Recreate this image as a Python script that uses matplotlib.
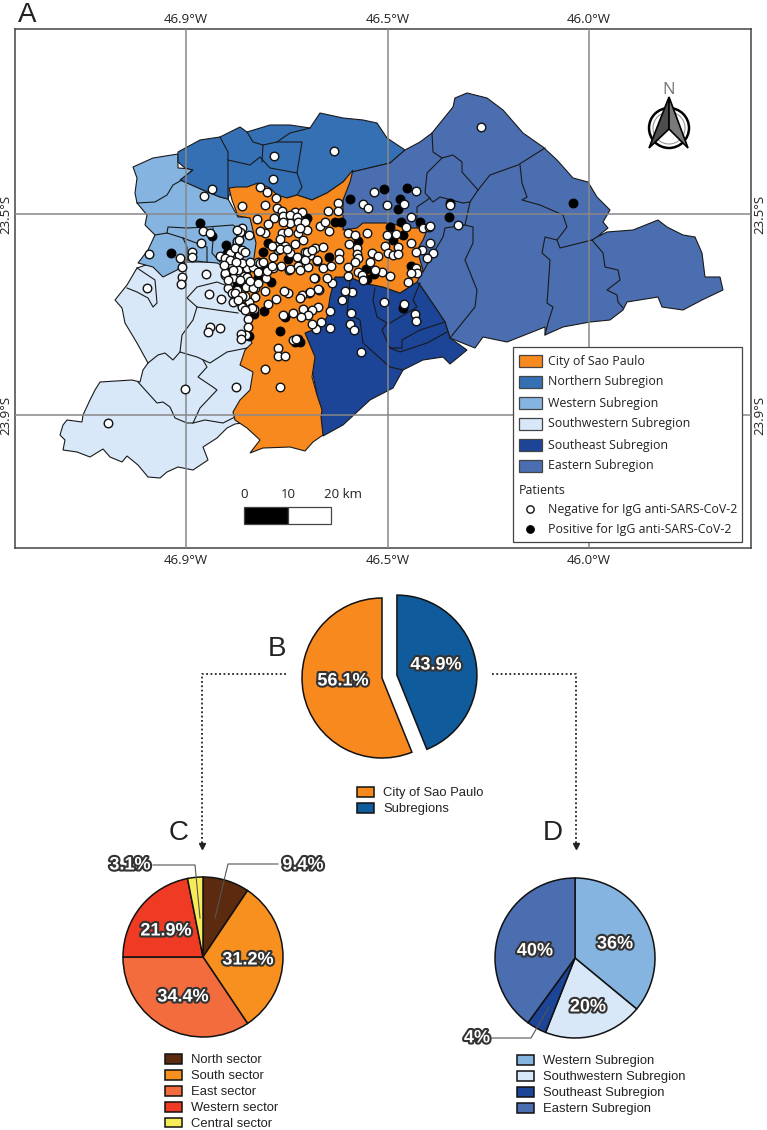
# recreate the Sao Paulo seroprevalence map + pie panels
import matplotlib
matplotlib.use("Agg")
import matplotlib.pyplot as plt
import matplotlib.patheffects as pe
from matplotlib.patches import Polygon, Rectangle, Circle

W, H = 767, 1130
MAP_FONT = "Open Sans"
PIE_FONT = "Liberation Sans"

#############################
#### map data (digitised map units, the grid ticks label them in degrees)
#############################
lon_ticks = [186, 388, 589]
lon_labels = ["46.9°W", "46.5°W", "46.0°W"]
lat_ticks = [214, 415]
lat_labels = ["23.5°S", "23.9°S"]

southwest_outline = [(137,268),(127,285),(115,300),(122,308),(125,323),(137,343),(148,363),(143,370),(140,382),
    (132,380),(100,382),(95,390),(90,400),(83,415),(82,422),(67,420),(63,425),(60,435),(65,440),(63,450),(77,452),
    (90,457),(103,449),(110,457),(122,462),(127,456),(138,465),(148,477),(160,478),(167,472),(178,467),(193,470),
    (208,460),(203,447),(217,438),(227,428),(235,424),(262,420),(262,262),(155,262)]
western_outline = [(133,167),(153,158),(178,154),(178,168),(193,169),(182,180),(203,190),(220,197),(228,199),
    (238,217),(250,217),(258,243),(254,262),(240,272),(227,268),(217,263),(205,262),(187,260),(177,270),(163,277),
    (153,267),(138,263),(148,250),(155,235),(145,225),(147,215),(137,203),(135,193),(137,178)]
northern_outline = [(178,152),(200,140),(220,137),(240,127),(247,132),(270,125),(290,125),(310,128),(320,113),
    (343,118),(363,120),(377,123),(387,138),(405,150),(390,163),(373,167),(352,172),(343,182),(327,193),(312,200),
    (297,195),(287,198),(270,195),(229,195),(228,199),(220,197),(203,190),(180,180),(193,170),(185,168),(178,162)]
eastern_outline = [(352,172),(373,167),(390,163),(405,150),(420,142),(432,133),(453,107),(455,98),(467,93),(487,98),
    (503,110),(523,133),(543,147),(557,160),(573,178),(588,182),(597,197),(610,210),(603,222),(608,228),(597,237),
    (607,232),(633,230),(658,220),(667,227),(683,235),(695,237),(702,253),(705,277),(720,277),(723,290),(702,300),
    (683,310),(662,307),(658,297),(627,302),(623,310),(610,320),(590,322),(563,327),(545,335),(545,327),(507,342),
    (483,337),(475,348),(450,338),(445,322),(435,307),(420,285),(417,282),(380,260),(345,240),(340,215),(345,190)]
southeast_outline = [(335,277),(350,277),(363,283),(383,287),(400,293),(417,282),(420,285),(435,307),(445,322),
    (450,338),(467,350),(450,364),(443,357),(423,360),(403,370),(393,388),(370,400),(357,412),(343,425),(323,436),
    (318,400),(305,333),(320,327)]
city_outline = [(229,188),(237,187),(247,187),(258,183),(270,188),(277,195),(287,198),(297,195),(312,200),(327,193),
    (343,182),(353,170),(350,182),(343,200),(343,215),(343,230),(357,228),(363,223),(390,223),(407,228),(428,228),
    (423,240),(417,250),(423,270),(417,282),(400,293),(383,287),(363,283),(350,277),(335,277),(330,297),(327,317),
    (320,327),(305,333),(315,357),(312,377),(317,395),(322,410),(321,417),(323,435),(313,442),(305,451),(290,447),
    (263,448),(250,453),(260,440),(247,428),(235,420),(233,412),(240,400),(250,390),(253,372),(240,365),(245,350),
    (252,343),(246,330),(250,320),(240,305),(240,290),(250,275),(254,258),(256,243),(250,218),(238,216),(232,200)]

# municipality borders
municipal_lines = [
    # northern
    [(220,137),(228,152),(228,199)],
    [(228,160),(250,165),(260,157),(270,168),(297,173),(302,187),(297,195)],
    [(247,132),(253,142),(263,145),(277,142),(290,133),(310,128)],
    [(263,145),(262,162)],
    [(277,142),(302,142),(297,173)],
    # western
    [(137,203),(155,202),(167,195),(173,185),(182,180)],
    [(155,235),(167,233),(168,227),(187,228),(207,227),(233,225),(237,228)],
    [(167,233),(183,238),(187,247),(187,260)],
    [(183,238),(207,247),(207,262)],
    [(213,228),(213,240),(212,253),(220,262)],
    # southwest
    [(137,268),(155,280),(157,303),(153,307),(148,298),(137,292),(127,288)],
    [(187,298),(197,287),(217,282),(230,287),(240,290)],
    [(187,298),(197,307),(217,310),(238,313)],
    [(197,307),(193,320),(182,335),(180,352),(197,357),(210,363),(227,352),(252,347)],
    [(148,363),(158,355),(165,353),(173,360),(180,352)],
    [(203,360),(207,367),(198,377),(213,387),(217,390),(200,408),(193,423)],
    [(138,382),(157,403),(163,402),(170,407),(175,418),(187,423),(193,423),(205,420),(223,423),(235,417)],
    # eastern
    [(432,133),(433,152),(442,158),(453,155),(462,162),(462,172),(478,190)],
    [(442,158),(427,173),(425,193),(433,202),(440,197),(463,203),(470,202),(478,190)],
    [(478,190),(490,175),(518,165),(545,148)],
    [(520,165),(522,183),(527,197),(522,200),(540,205),(563,215),(567,227),(557,240),(560,248),(592,240),(597,237)],
    [(592,240),(603,253),(605,267),(618,270),(620,280),(607,290),(617,295),(618,302),(623,308)],
    [(557,240),(545,237),(542,253),(550,260),(548,290),(547,303),(553,307),(548,323),(545,335)],
    [(470,202),(465,225),(473,227),(473,243),(465,260),(477,290),(475,307),(450,338)],
    [(465,225),(445,228),(443,237),(437,247),(423,272)],
    [(417,228),(417,207),(430,198)],
    # southeast
    [(375,288),(373,300),(377,317),(387,323),(382,330),(390,348),(402,348),(402,340),(420,330),(445,322)],
    [(390,348),(400,352),(427,343),(447,332)],
    [(420,283),(413,300),(417,307),(390,323)],
    [(350,282),(347,313),(360,320),(363,343),(390,367),(403,370)],
]

negative_points = [(334,151),(274,156),(273,179),(212,189),(204,196),(260,187),(267,192),(276,198),(242,206),(265,205),
    (277,208),(282,211),(295,212),(302,212),(283,216),(290,215),(297,217),(338,203),(328,211),(338,211),(374,192),
    (416,191),(363,204),(368,208),(387,205),(404,204),(257,219),(274,218),(268,224),(290,223),(298,222),(305,222),
    (307,230),(320,226),(325,222),(329,231),(265,233),(260,231),(282,233),(288,232),(298,233),(280,239),(303,240),
    (295,244),(348,233),(367,233),(355,235),(387,235),(396,234),(411,217),(406,227),(423,228),(429,227),(430,243),
    (411,243),(422,250),(416,252),(433,253),(427,258),(349,244),(385,246),(398,247),(357,248),(357,254),(372,253),
    (378,256),(388,253),(393,255),(398,254),(339,253),(339,259),(358,258),(348,267),(348,276),(358,272),(362,275),
    (382,272),(390,276),(363,280),(408,282),(416,268),(417,273),(411,273),(352,292),(345,291),(342,300),(384,302),
    (404,304),(415,314),(416,321),(351,313),(350,324),(354,330),(330,328),(361,352),(330,311),(321,322),(316,329),
    (312,324),(318,307),(312,310),(303,309),(308,315),(301,317),(293,313),(283,315),(319,290),(309,293),(302,295),
    (300,298),(288,293),(284,291),(276,299),(268,304),(332,283),(327,278),(315,278),(323,268),(331,266),(317,261),
    (308,267),(298,266),(289,270),(281,266),(273,268),(266,278),(265,291),(255,297),(249,302),(242,306),(234,301),
    (228,288),(245,296),(255,288),(246,287),(237,290),(232,293),(244,276),(225,275),(220,256),(236,247),(239,255),
    (231,263),(241,264),(247,268),(253,267),(258,272),(267,271),(258,262),(273,257),(278,250),(285,246),(275,246),
    (290,253),(297,257),(305,252),(307,255),(315,248),(310,255),(323,247),(242,228),(240,232),(249,235),(237,241),
    (230,253),(203,231),(210,233),(201,243),(192,252),(192,257),(180,258),(182,267),(182,277),(181,284),(149,254),
    (147,288),(206,274),(209,294),(221,299),(242,307),(248,319),(254,309),(251,308),(248,327),(246,335),(241,334),
    (241,339),(210,327),(208,332),(220,328),(278,348),(278,356),(285,356),(265,369),(280,387),(236,387),(185,389),
    (293,340),(296,339),(108,423),(481,127),(450,205),(458,225),(430,226),(235,248),(242,250),(225,258),(242,263),
    (232,265),(230,260),(260,263),(272,266),(238,270),(225,273),(247,277),(233,278),(253,288),(235,293),(242,296),
    (233,302),(252,308),(280,249),(287,249),(272,246),(307,252),(317,260),(290,269),(314,278),(318,289),(310,292),
    (237,230),(239,240),(245,252),(250,262),(236,262),(224,265),(240,280),(250,281),(238,300),(245,310),(283,222),
    (300,228),(312,250),(305,260),(300,270),(370,262),(375,270),(355,262),(233,270),(228,280),(258,283),(263,262)]

positive_points = [(171,253),(200,223),(212,236),(226,245),(227,253),(237,243),(240,233),(231,270),(237,285),(258,278),
    (264,267),(271,282),(263,252),(268,243),(288,259),(307,218),(335,222),(341,222),(329,257),(358,241),(350,199),
    (384,189),(407,188),(400,199),(398,209),(390,227),(401,222),(420,222),(403,235),(393,240),(411,266),(366,269),
    (374,274),(367,279),(403,308),(450,203),(449,217),(254,314),(264,311),(285,317),(280,331),(249,336),(298,339),
    (300,342),(295,342),(573,203)]

region_names = ["City of Sao Paulo", "Northern Subregion", "Western Subregion",
                "Southwestern Subregion", "Southeast Subregion", "Eastern Subregion"]
region_colors = ["#F7891F", "#3570B5", "#85B4E0", "#D8E8F8", "#1C4497", "#4A6EAF"]
patient_labels = ["Negative for IgG anti-SARS-CoV-2", "Positive for IgG anti-SARS-CoV-2"]
scale_labels = ["0", "10", "20 km"]

#############################
#### pie data
#############################
b_labels = ["Subregions", "City of Sao Paulo"]
b_values = [43.9, 56.1]
b_colors = ["#0F5B9C", "#F7891F"]

c_labels = ["North sector", "South sector", "East sector", "Western sector", "Central sector"]
c_values = [9.4, 31.2, 34.4, 21.9, 3.1]
c_colors = ["#5C2A0E", "#F7901E", "#F36C3D", "#EF3B24", "#F7EC58"]

d_labels = ["Western Subregion", "Southwestern Subregion", "Southeast Subregion", "Eastern Subregion"]
d_values = [36, 20, 4, 40]
d_colors = ["#85B4E0", "#D8E8F8", "#1C4497", "#4A6EAF"]

#############################
#### helpers
#############################
def px_axes(x0, y0, x1, y1):
    # axes from a pixel box, y counted from the top of the figure
    return fig.add_axes([x0/W, 1-y1/H, (x1-x0)/W, (y1-y0)/H])

def pie_axes(cx, cy, r):
    ax = px_axes(cx-1.3*r, cy-1.3*r, cx+1.3*r, cy+1.3*r)
    ax.set_xlim(-1.3, 1.3)
    ax.set_ylim(-1.3, 1.3)
    return ax

def draw_pie(ax, values, colors, explode=None):
    wedges, _ = ax.pie(values, colors=colors, startangle=90, counterclock=False, explode=explode,
                       radius=1, wedgeprops=dict(edgecolor="#111111", linewidth=1.1))
    ax.set_xlim(-1.3, 1.3)
    ax.set_ylim(-1.3, 1.3)
    return wedges

def pie_text(x, y, s):
    over.text(x, y, s, ha="center", va="center", color="white", fontsize=13, fontweight="bold", family=PIE_FONT,
              path_effects=[pe.withStroke(linewidth=3, foreground="#333333")], zorder=6)

def pie_legend(handles, labels, x, y):
    fig.legend(handles, labels, loc="upper left", bbox_to_anchor=(x/W, 1-y/H), bbox_transform=fig.transFigure,
               frameon=False, prop=dict(family=PIE_FONT, size=9.4), labelcolor="#222222", borderpad=0, borderaxespad=0,
               handlelength=1.3, handleheight=0.77, handletextpad=0.72, labelspacing=0.27)

#############################
#### figure
#############################
fig = plt.figure(figsize=(W/100, H/100), dpi=100)

# panel A
ax = px_axes(15, 29, 751, 548)
ax.set_xlim(15, 751)
ax.set_ylim(548, 29)
for spine in ax.spines.values():
    spine.set_color("#444444")
    spine.set_linewidth(1.1)
ax.set_xticks(lon_ticks)
ax.set_xticklabels(lon_labels)
ax.set_yticks(lat_ticks)
ax.set_yticklabels(lat_labels)
ax.tick_params(axis="both", length=0, labelsize=9.5, labelcolor="#222222",
               top=False, bottom=False, left=False, right=False,
               labeltop=True, labelbottom=True, labelleft=True, labelright=True)
ax.tick_params(axis="x", pad=4.4)
ax.tick_params(axis="y", labelrotation=90, pad=2)
for tick in ax.yaxis.get_major_ticks():
    for lab in (tick.label1, tick.label2):
        lab.set_va("center")
        lab.set_family(MAP_FONT)
for tick in ax.xaxis.get_major_ticks():
    for lab in (tick.label1, tick.label2):
        lab.set_family(MAP_FONT)
    tick.label2.set_va("baseline")
ax.set_axisbelow(False)
ax.grid(True, color="#888888", linewidth=1.1)

outlines = [(southwest_outline, region_colors[3]), (western_outline, region_colors[2]),
            (northern_outline, region_colors[1]), (eastern_outline, region_colors[5]),
            (southeast_outline, region_colors[4])]
for pts, col in outlines:
    ax.add_patch(Polygon(pts, closed=True, facecolor=col, edgecolor="#1a1a1a", linewidth=0.8, zorder=2))
for line in municipal_lines:
    ax.plot([p[0] for p in line], [p[1] for p in line], color="#1a1a1a", linewidth=0.8, zorder=2.2)
# city goes over the borders
ax.add_patch(Polygon(city_outline, closed=True, facecolor=region_colors[0], edgecolor="#1a1a1a", linewidth=0.8, zorder=2.3))

ax.scatter([p[0] for p in positive_points], [p[1] for p in positive_points],
           s=40, c="black", edgecolors="black", linewidths=0.8, zorder=4)
ax.scatter([p[0] for p in negative_points], [p[1] for p in negative_points],
           s=38, c="white", edgecolors="#111111", linewidths=1.0, zorder=5)

# north arrow
ax.add_patch(Circle((669, 128), 20, facecolor="white", edgecolor="black", linewidth=1.8, zorder=3))
ax.add_patch(Circle((669, 128), 16, facecolor="none", edgecolor="#999999", linewidth=0.8, zorder=3))
ax.add_patch(Polygon([(669, 97), (649, 148), (669, 129)], facecolor="#4d4d4d", edgecolor="black", linewidth=1.2, zorder=3.1))
ax.add_patch(Polygon([(669, 97), (688, 148), (669, 129)], facecolor="#7a7a7a", edgecolor="black", linewidth=1.2, zorder=3.1))
ax.text(669, 90, "N", ha="center", va="center", color="#777777", fontsize=12, family=MAP_FONT, zorder=3.2)

# scale bar
ax.add_patch(Rectangle((244, 507), 44, 17, facecolor="black", edgecolor="#444444", linewidth=0.9, zorder=3))
ax.add_patch(Rectangle((288, 507), 43, 17, facecolor="white", edgecolor="#444444", linewidth=0.9, zorder=3))
ax.text(244, 494, scale_labels[0], ha="center", va="center", fontsize=9.5, color="#222222", family=MAP_FONT)
ax.text(288, 494, scale_labels[1], ha="center", va="center", fontsize=9.5, color="#222222", family=MAP_FONT)
ax.text(324, 494, scale_labels[2], ha="left", va="center", fontsize=9.5, color="#222222", family=MAP_FONT)

# map legend
ax.add_patch(Rectangle((513, 347), 229, 195, facecolor="white", edgecolor="#444444", linewidth=0.9, zorder=6))
for i, (name, col) in enumerate(zip(region_names, region_colors)):
    ax.add_patch(Rectangle((519, 355+21*i), 23, 12, facecolor=col, edgecolor="#444444", linewidth=0.9, zorder=7))
    ax.text(548, 361+21*i, name, ha="left", va="center", fontsize=8.9, color="#222222", family=MAP_FONT, zorder=7)
ax.text(519, 490, "Patients", ha="left", va="center", fontsize=8.9, color="#222222", family=MAP_FONT, zorder=7)
ax.scatter([530], [509], s=28, c="white", edgecolors="#111111", linewidths=1.0, zorder=7)
ax.scatter([530], [529], s=30, c="black", edgecolors="black", linewidths=0.8, zorder=7)
ax.text(548, 509, patient_labels[0], ha="left", va="center", fontsize=8.9, color="#222222", family=MAP_FONT, zorder=7)
ax.text(548, 529, patient_labels[1], ha="left", va="center", fontsize=8.9, color="#222222", family=MAP_FONT, zorder=7)

# panels B, C, D
ax_b = pie_axes(382, 678, 80)
ax_c = pie_axes(203, 957, 80)
ax_d = pie_axes(575, 958, 80)
b_wedges = draw_pie(ax_b, b_values, b_colors, explode=[0.19, 0])
c_wedges = draw_pie(ax_c, c_values, c_colors)
d_wedges = draw_pie(ax_d, d_values, d_colors)

# overlay in figure pixels for letters, labels and connectors
over = fig.add_axes([0, 0, 1, 1])
over.set_xlim(0, W)
over.set_ylim(H, 0)
over.axis("off")
over.patch.set_alpha(0)

for letter, x, y in [("A", 27, 15), ("B", 277, 649), ("C", 179, 833), ("D", 553, 833)]:
    over.text(x, y, letter, ha="center", va="center", fontsize=20, color="#222222", family=PIE_FONT)

for x_seq, y_seq in [([286, 202, 202], [674, 674, 844]), ([492, 576, 576], [674, 674, 844])]:
    over.plot(x_seq, y_seq, color="#222222", linewidth=1.3, linestyle=(0, (1, 1.4)))
    over.plot([x_seq[-1]], [846], marker="v", markersize=4, color="#222222", linestyle="none")

leaders = [([153, 195, 200], [865, 865, 918]), ([278, 228, 215], [864, 864, 918]), ([492, 531, 549], [1038, 1038, 1007])]
for x_seq, y_seq in leaders:
    over.plot(x_seq, y_seq, color="#555555", linewidth=0.8, zorder=5)

pie_text(343, 681, "56.1%")
pie_text(436, 665, "43.9%")
pie_text(248, 960, "31.2%")
pie_text(166, 931, "21.9%")
pie_text(183, 997, "34.4%")
pie_text(130, 865, "3.1%")
pie_text(303, 865, "9.4%")
pie_text(615, 944, "36%")
pie_text(588, 1007, "20%")
pie_text(535, 951, "40%")
pie_text(477, 1038, "4%")

pie_legend([b_wedges[1], b_wedges[0]], [b_labels[1], b_labels[0]], 357, 787)
pie_legend(c_wedges, c_labels, 165, 1054)
pie_legend(d_wedges, d_labels, 517, 1055)

fig.savefig("out.png", dpi=100)
